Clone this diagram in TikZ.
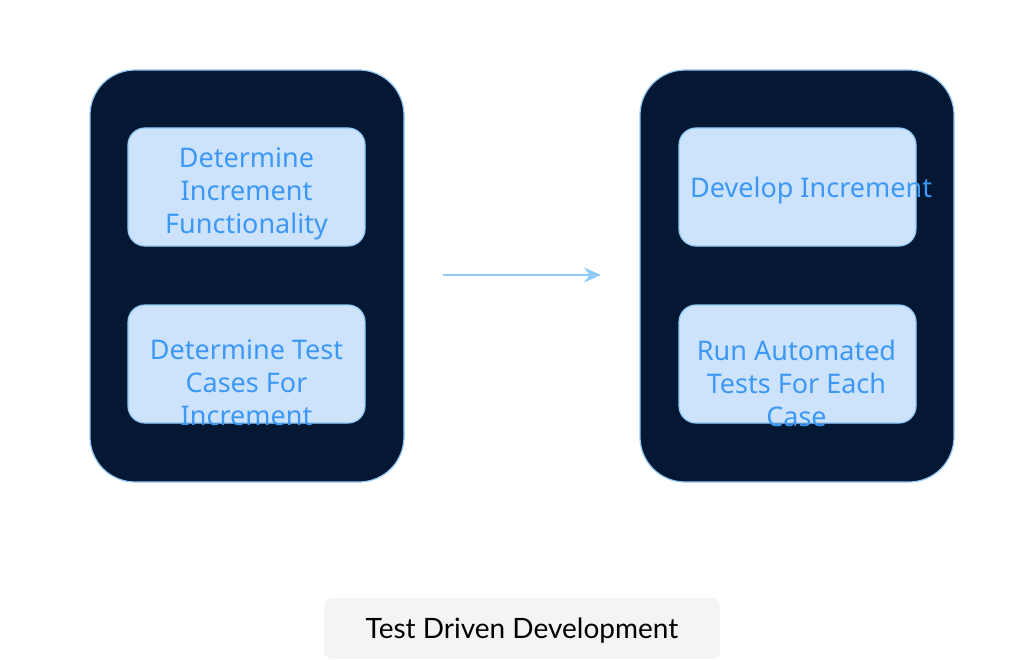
\documentclass[tikz,border=0pt]{standalone}
\usepackage{fontspec}
\setmainfont{Noto Sans}
\newfontfamily\titlefont{Lato}
\usetikzlibrary{arrows.meta}
\definecolor{darkbg}{HTML}{041833}
\definecolor{edgeblue}{HTML}{90CAF9}
\definecolor{innerfill}{HTML}{CCE3FB}
\definecolor{textblue}{HTML}{3D98F5}
\definecolor{labelgray}{HTML}{F4F4F4}
\tikzset{
  outerbox/.style={draw=edgeblue, line width=1.2pt, fill=darkbg, rounded corners=45pt, minimum width=314pt, minimum height=412pt, inner sep=0pt},
  innerbox/.style={draw=edgeblue, line width=1.2pt, fill=innerfill, rounded corners=17pt, minimum width=237pt, minimum height=118pt, inner sep=0pt},
  boxtext/.style={text=textblue, font=\fontsize{27}{33}\selectfont, align=center, inner sep=0pt},
  titlebox/.style={fill=labelgray, rounded corners=8pt, minimum width=396pt, minimum height=61pt, inner sep=0pt},
  titletext/.style={font=\titlefont\fontsize{28}{30}\selectfont, text=black, inner sep=0pt},
  flow/.style={draw=edgeblue, line width=1.5pt, -{Stealth[length=17pt, width=15pt]}}
}
\begin{document}
\begin{tikzpicture}[x=1pt, y=-1pt]
\useasboundingbox (0,0) rectangle (1032,660);
\node[outerbox] (L) at (247,276) {};
\node[outerbox] (R) at (797,276) {};
\node[innerbox] (L1) at (246.5,187) {};
\node[innerbox] (L2) at (246.5,364) {};
\node[innerbox] (R1) at (797.5,187) {};
\node[innerbox] (R2) at (797.5,364) {};
\node[boxtext] (t1) at (246.5,194) {Determine\\Increment\\Functionality};
\node[boxtext] (t2) at (246.5,383) {Determine Test\\Cases For\\Increment};
\node[boxtext, anchor=west] (t3) at (690,190) {Develop Increment};
\node[boxtext] (t4) at (796.5,383) {Run Automated\\Tests For Each\\Case};
\coordinate (a1) at (443,275);
\coordinate (a2) at (601,275);
\draw[flow] (a1) -- (a2);
\node[titlebox] (T) at (522,628.5) {};
\node[titletext] (Tt) at (522,630.5) {Test Driven Development};
\end{tikzpicture}
\end{document}
